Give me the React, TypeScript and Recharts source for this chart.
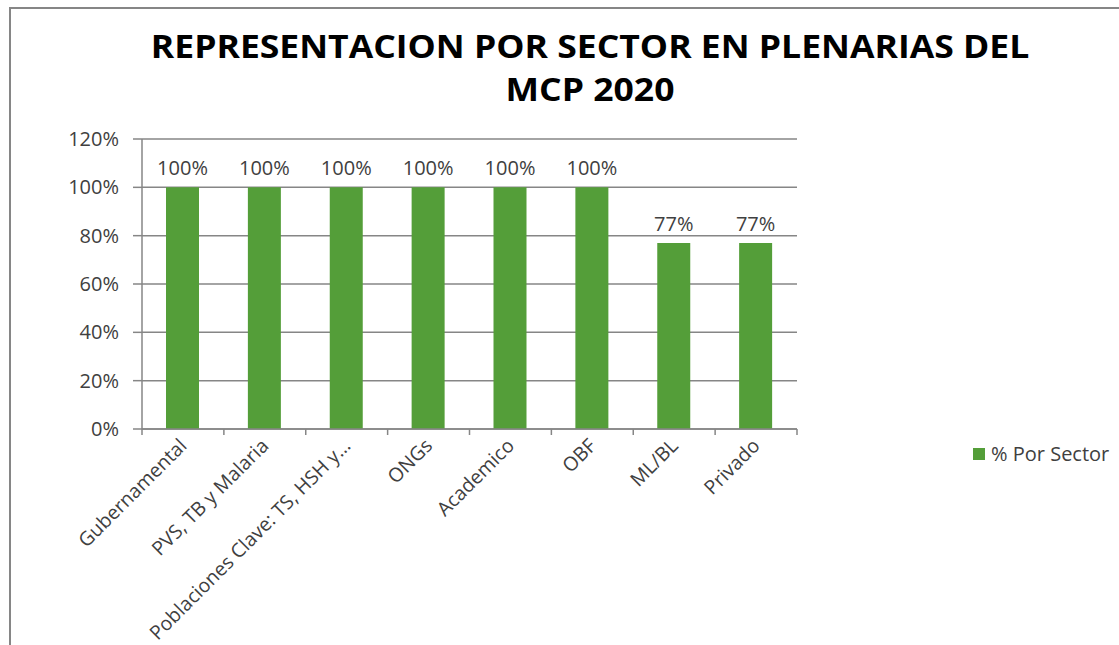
import React from 'react';
import {
  BarChart,
  Bar,
  XAxis,
  YAxis,
  CartesianGrid,
  LabelList,
} from 'recharts';

const sectors = [
  'Gubernamental',
  'PVS,  TB y Malaria',
  'Poblaciones Clave: TS, HSH y…',
  'ONGs',
  'Academico',
  'OBF',
  'ML/BL',
  'Privado',
];
const porSector = [1, 1, 1, 1, 1, 1, 0.77, 0.77];
const yTicks = [0, 0.2, 0.4, 0.6, 0.8, 1, 1.2];

const data = sectors.map((name, i) => ({ name, value: porSector[i] }));

const FONT = '"Open Sans", sans-serif';
const GREEN = '#549E39';
const AXIS = '#868686';
const TEXT = '#404040';

const pct = (v: number) => `${Math.round(v * 100)}%`;

const CategoryTick = (props: any) => {
  const { x, y, payload, index, visibleTicksCount } = props;
  const half = payload?.offset ?? 41;
  const last = index === (visibleTicksCount ?? sectors.length) - 1;
  return (
    <g>
      <line x1={x - half} y1={y - 8} x2={x - half} y2={y - 2} stroke={AXIS} strokeWidth={1.5} />
      {last && (
        <line x1={x + half} y1={y - 8} x2={x + half} y2={y - 2} stroke={AXIS} strokeWidth={1.5} />
      )}
      <text
        x={x + 5}
        y={y + 10}
        textAnchor="end"
        fontSize={19.5}
        fill={TEXT}
        fontFamily={FONT}
        transform={`rotate(-45, ${x + 5}, ${y + 10})`}
      >
        {payload.value}
      </text>
    </g>
  );
};

export default function App() {
  return (
    <div style={{ position: 'absolute', left: 0, top: 0, width: 1119, height: 645, background: '#fff', overflow: 'hidden', fontFamily: FONT }}>
      <div
        style={{
          position: 'absolute',
          left: 9,
          top: 7,
          width: 1130,
          height: 660,
          border: `2px solid ${AXIS}`,
          boxSizing: 'border-box',
        }}
      />
      <div
        style={{
          position: 'absolute',
          left: 0,
          top: 24,
          width: 1180,
          textAlign: 'center',
          fontWeight: 700,
          fontSize: 32,
          lineHeight: '43px',
          color: '#000',
          transform: 'scaleX(1.11)',
          transformOrigin: '590px 0',
        }}
      >
        REPRESENTACION POR SECTOR EN PLENARIAS DEL
        <br />
        MCP 2020
      </div>
      <div style={{ position: 'absolute', left: 0, top: 0 }}>
        <BarChart
          width={1119}
          height={645}
          data={data}
          margin={{ top: 139, right: 322, bottom: 66, left: 62 }}
        >
          <CartesianGrid vertical={false} stroke={AXIS} strokeWidth={1.5} />
          <XAxis
            dataKey="name"
            interval={0}
            height={150}
            tickLine={false}
            axisLine={{ stroke: AXIS, strokeWidth: 1.5 }}
            tick={<CategoryTick />}
          />
          <YAxis
            domain={[0, 1.2]}
            ticks={yTicks}
            tickFormatter={pct}
            width={80}
            tickSize={9}
            tickMargin={14}
            axisLine={{ stroke: AXIS, strokeWidth: 1.5 }}
            tickLine={{ stroke: AXIS, strokeWidth: 1.5 }}
            tick={{ fill: TEXT, fontSize: 20, fontFamily: FONT }}
          />
          <Bar dataKey="value" fill={GREEN} barSize={33} isAnimationActive={false}>
            <LabelList
              dataKey="value"
              position="top"
              offset={12}
              formatter={(v: any) => pct(Number(v))}
              fill={TEXT}
              fontSize={20}
              fontFamily={FONT}
            />
          </Bar>
        </BarChart>
      </div>
      <div
        style={{
          position: 'absolute',
          left: 973,
          top: 440,
          display: 'flex',
          alignItems: 'center',
          fontSize: 20,
          color: TEXT,
        }}
      >
        <span style={{ display: 'inline-block', width: 12, height: 12, background: GREEN, marginRight: 6 }} />
        % Por Sector
      </div>
    </div>
  );
}
